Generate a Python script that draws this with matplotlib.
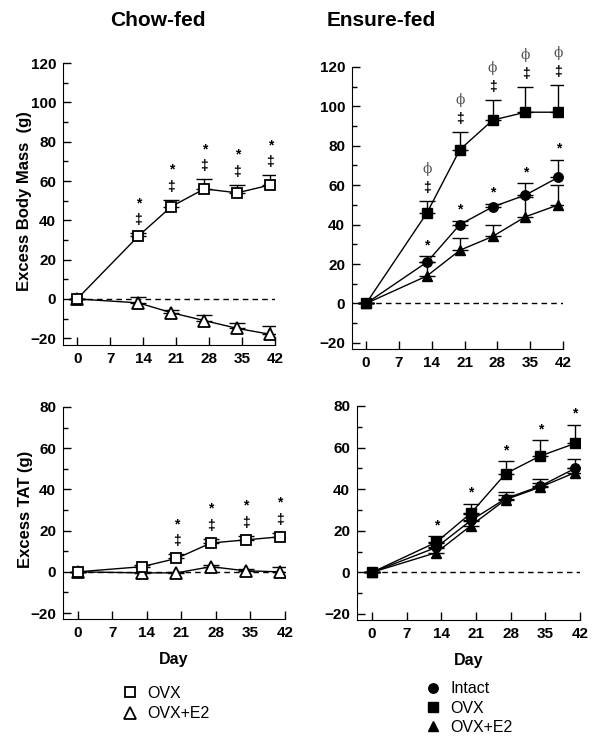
import matplotlib
matplotlib.use('Agg')
import matplotlib.pyplot as plt
from matplotlib.lines import Line2D
from matplotlib.ticker import MultipleLocator
import numpy as np

plt.rcParams['font.family'] = ['Liberation Sans', 'DejaVu Sans']

# Study days
days = [0, 13, 20, 27, 34, 41]
day_ticks = [0, 7, 14, 21, 28, 35, 42]

# Chow-fed, excess body mass (g)
chow_bm_ovx = [0, 32, 47, 56, 54, 58]
chow_bm_ovx_err = [0, 1.5, 3.5, 5, 4, 5]
chow_bm_e2 = [0, -2, -7, -11, -15, -18]
chow_bm_e2_err = [0, 3, 1.5, 3, 3, 4]
chow_bm_ovx_sig = ['', '‡*', '‡*', '‡*', '‡*', '‡*']

# Ensure-fed, excess body mass (g)
ens_bm_intact = [0, 21, 40, 49, 55, 64]
ens_bm_intact_err = [0, 3, 2, 1.5, 6, 9]
ens_bm_ovx = [0, 46, 78, 93, 97, 97]
ens_bm_ovx_err = [0, 6, 9, 10, 13, 14]
ens_bm_e2 = [0, 14, 27, 34, 44, 50]
ens_bm_e2_err = [0, 7, 6, 6, 10, 10]
ens_bm_ovx_sig = ['', '‡ϕ', '‡ϕ', '‡ϕ', '‡ϕ', '‡ϕ']
ens_bm_intact_sig = ['', '*', '*', '*', '*', '*']

# Chow-fed, excess TAT (g)
chow_tat_ovx = [0, 2.5, 6.5, 14, 15.5, 17]
chow_tat_ovx_err = [0, 1, 2, 2, 2, 2]
chow_tat_e2 = [0, -0.5, -0.5, 2.5, 0.5, 0]
chow_tat_e2_err = [0, 0.5, 0.5, 1, 1, 2.5]
chow_tat_ovx_sig = ['', '', '‡*', '‡*', '‡*', '‡*']

# Ensure-fed, excess TAT (g)
ens_tat_intact = [0, 12, 25, 35.5, 41.5, 50]
ens_tat_intact_err = [0, 2, 3, 3, 3.5, 4.5]
ens_tat_ovx = [0, 14.5, 28.5, 47.5, 56, 62]
ens_tat_ovx_err = [0, 3, 4.5, 6, 7.5, 9]
ens_tat_e2 = [0, 9.5, 22.5, 35, 41, 48]
ens_tat_e2_err = [0, 2, 2, 2, 2, 2]
ens_tat_ovx_sig = ['', '*', '*', '*', '*', '*']

# marker styles per group
open_sq = dict(marker='s', ms=7.3, mfc='white', mec='black', mew=1.3)
open_tri = dict(marker='^', ms=8.3, mfc='white', mec='black', mew=1.3)
fill_ci = dict(marker='o', ms=6.8, mfc='black', mec='black')
fill_sq = dict(marker='s', ms=6.8, mfc='black', mec='black')
fill_tri = dict(marker='^', ms=7.3, mfc='black', mec='black')


def series(ax, y, err, style):
    y = np.array(y, dtype=float)
    err = np.array(err, dtype=float)
    # one-sided (upper) SEM bars
    ax.errorbar(days, y, yerr=[np.zeros_like(err), err], fmt='none',
                ecolor='black', elinewidth=1, capsize=5.5, capthick=1, zorder=2)
    ax.plot(days, y, color='black', lw=1, zorder=3, **style)


def marks(ax, y, err, sig):
    # significance symbols stacked above the error bar
    for d, v, e, s in zip(days, y, err, sig):
        for i, ch in enumerate(s):
            kw = dict(fontsize=10, fontweight='bold', color='black')
            if ch == 'ϕ':
                kw = dict(fontsize=10, color='#555555', family='DejaVu Serif')
            off = 13 + 19 * i
            if ch == '*':
                off -= 2
            ax.annotate(ch, (d, v + e), xytext=(0, off), textcoords='offset pixels',
                        ha='center', va='center', **kw)


def style_axes(ax, ymin, ymax, bottom):
    ax.set_xlim(-3, 42)
    ax.set_ylim(bottom, ymax)
    ax.spines['top'].set_visible(False)
    ax.spines['right'].set_visible(False)
    ax.set_xticks(day_ticks)
    ax.set_xticklabels([str(t) for t in day_ticks])
    ax.set_yticks(np.arange(ymin, ymax + 1, 20))
    ax.yaxis.set_minor_locator(MultipleLocator(10))
    ax.tick_params(direction='in', length=6, width=1, labelsize=11, pad=5)
    ax.tick_params(which='minor', direction='in', length=3.5, width=1)
    for lab in ax.get_xticklabels() + ax.get_yticklabels():
        lab.set_fontweight('bold')
    ax.hlines(0, 0, 42, colors='black', linestyles=(0, (4, 3)), lw=1, zorder=1)


fig = plt.figure(figsize=(6, 7.47), dpi=100)

ax1 = fig.add_axes([0.105, 0.538, 0.3533, 0.3775])
ax2 = fig.add_axes([0.5867, 0.533, 0.3516, 0.3775])
ax3 = fig.add_axes([0.105, 0.1713, 0.37, 0.2839])
ax4 = fig.add_axes([0.595, 0.170, 0.3717, 0.2865])

# Chow-fed body mass
style_axes(ax1, -20, 120, -23.5)
series(ax1, chow_bm_e2, chow_bm_e2_err, open_tri)
series(ax1, chow_bm_ovx, chow_bm_ovx_err, open_sq)
marks(ax1, chow_bm_ovx, chow_bm_ovx_err, chow_bm_ovx_sig)
ax1.set_ylabel('Excess Body Mass  (g)', fontsize=12, fontweight='bold')

# Ensure-fed body mass
style_axes(ax2, -20, 120, -23)
series(ax2, ens_bm_e2, ens_bm_e2_err, fill_tri)
series(ax2, ens_bm_intact, ens_bm_intact_err, fill_ci)
series(ax2, ens_bm_ovx, ens_bm_ovx_err, fill_sq)
marks(ax2, ens_bm_ovx, ens_bm_ovx_err, ens_bm_ovx_sig)
marks(ax2, ens_bm_intact, ens_bm_intact_err, ens_bm_intact_sig)

# Chow-fed TAT
style_axes(ax3, -20, 80, -22.9)
series(ax3, chow_tat_e2, chow_tat_e2_err, open_tri)
series(ax3, chow_tat_ovx, chow_tat_ovx_err, open_sq)
marks(ax3, chow_tat_ovx, chow_tat_ovx_err, chow_tat_ovx_sig)
ax3.set_ylabel('Excess TAT (g)', fontsize=12, fontweight='bold')
ax3.set_xlabel('Day', fontsize=11.5, fontweight='bold', labelpad=9)

# Ensure-fed TAT
style_axes(ax4, -20, 80, -22.9)
series(ax4, ens_tat_e2, ens_tat_e2_err, fill_tri)
series(ax4, ens_tat_intact, ens_tat_intact_err, fill_ci)
series(ax4, ens_tat_ovx, ens_tat_ovx_err, fill_sq)
marks(ax4, ens_tat_ovx, ens_tat_ovx_err, ens_tat_ovx_sig)
ax4.set_xlabel('Day', fontsize=11.5, fontweight='bold', labelpad=9)

ax1.yaxis.set_label_coords(-0.146, 0.51)
ax3.yaxis.set_label_coords(-0.135, 0.519)

fig.text(0.263, 0.973, 'Chow-fed', ha='center', va='center', fontsize=15, fontweight='bold')
fig.text(0.635, 0.973, 'Ensure-fed', ha='center', va='center', fontsize=15, fontweight='bold')

# legends
h_chow = [Line2D([], [], ls='none', **open_sq), Line2D([], [], ls='none', **open_tri)]
fig.legend(h_chow, ['OVX', 'OVX+E2'], loc='upper left', bbox_to_anchor=(0.203, 0.082),
           frameon=False, fontsize=11.5, handlelength=1.0, handletextpad=0.6,
           labelspacing=0.35, borderpad=0, borderaxespad=0)
h_ens = [Line2D([], [], ls='none', **fill_ci), Line2D([], [], ls='none', **fill_sq),
         Line2D([], [], ls='none', **fill_tri)]
fig.legend(h_ens, ['Intact', 'OVX', 'OVX+E2'], loc='upper left', bbox_to_anchor=(0.708, 0.088),
           frameon=False, fontsize=11.5, handlelength=1.0, handletextpad=0.6,
           labelspacing=0.27, borderpad=0, borderaxespad=0)

fig.savefig('out.png', dpi=100)
